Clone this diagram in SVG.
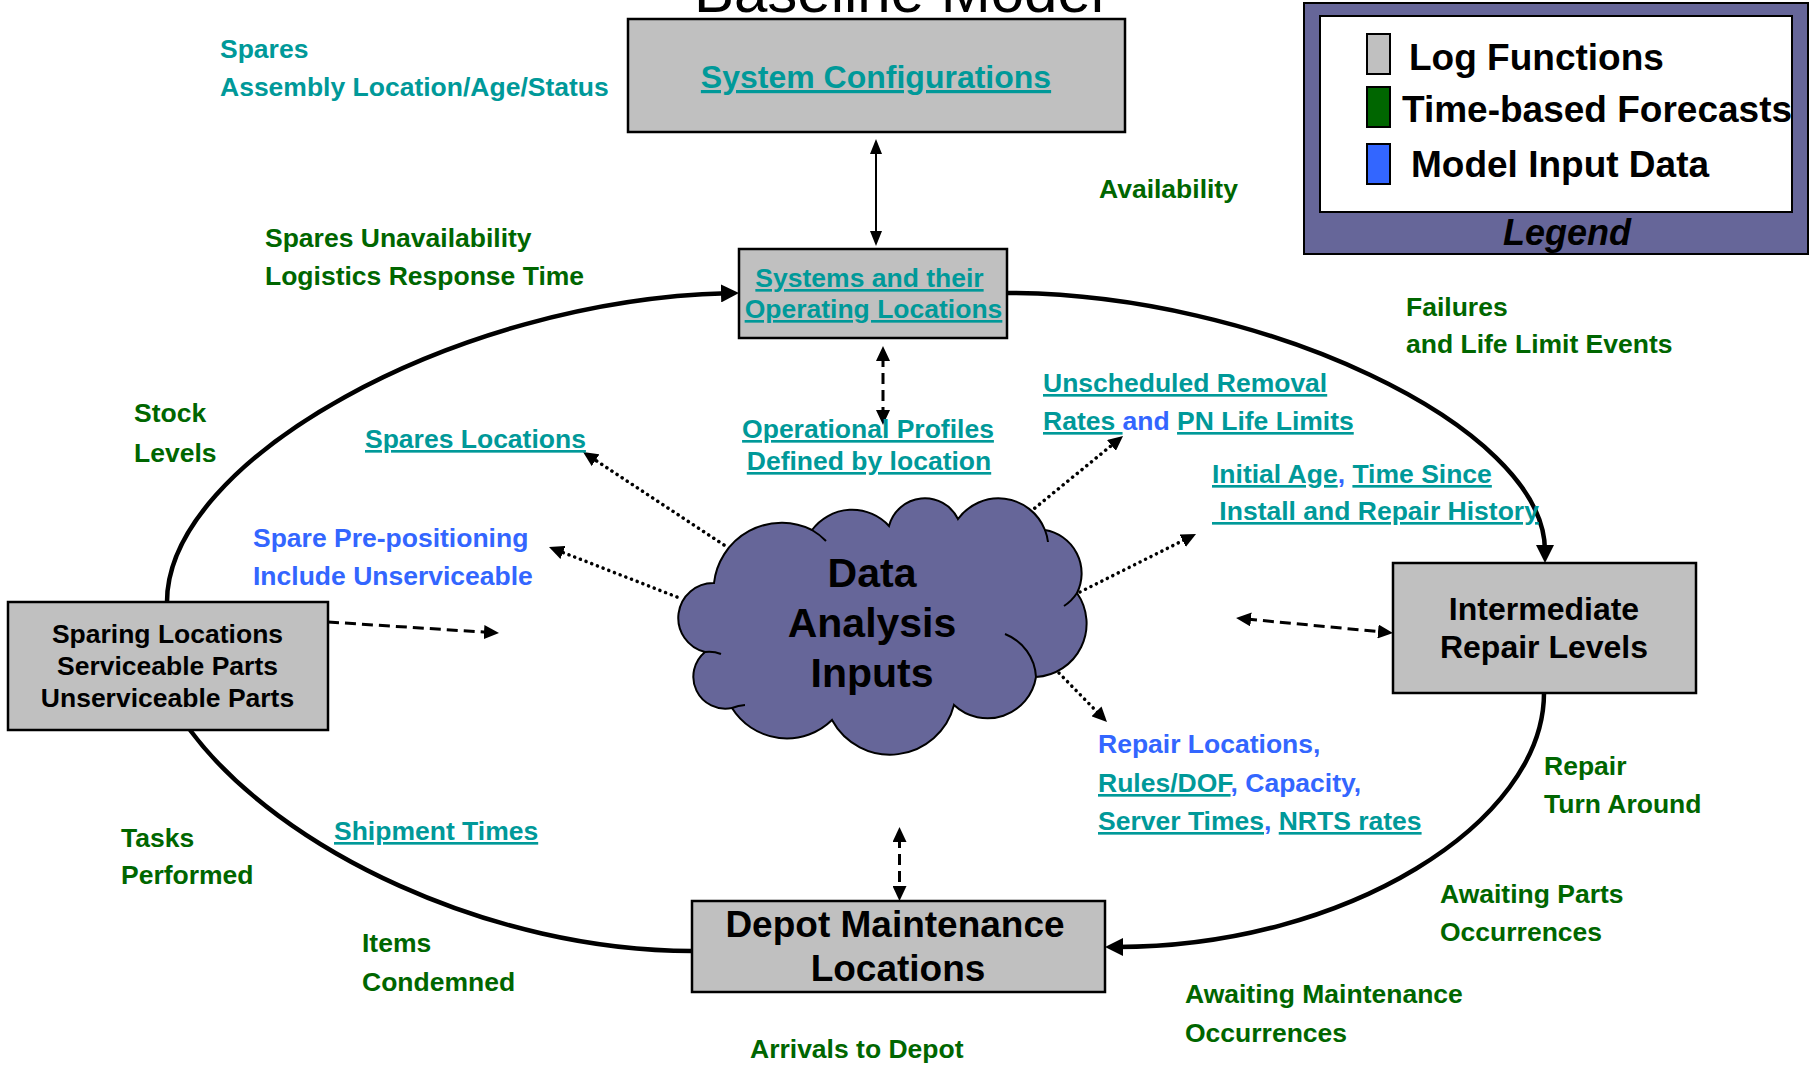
<svg xmlns="http://www.w3.org/2000/svg" width="1818" height="1067" viewBox="0 0 1818 1067">
<style>
text{font-family:"Liberation Sans",Arial,Helvetica,sans-serif;font-weight:bold}
.lbl{font-size:26.5px}
.teal{fill:#009999}
.green{fill:#006600}
.blue{fill:#3366FF}
.blk{fill:#000000}
.ul{text-decoration:underline}
.box{fill:#C0C0C0;stroke:#000;stroke-width:2.5}
.loop{fill:none;stroke:#000;stroke-width:4.5}
.dash{fill:none;stroke:#000;stroke-width:3;stroke-dasharray:11 6}
.dot{fill:none;stroke:#000;stroke-width:3.5;stroke-linecap:round;stroke-dasharray:0.1 6}
.solid{fill:none;stroke:#000;stroke-width:2}
.tick{fill:none;stroke:#000;stroke-width:2}
</style>
<defs>
<marker id="ahL" markerUnits="userSpaceOnUse" viewBox="0 0 18 18" markerWidth="18" markerHeight="18" refX="6" refY="9" orient="auto"><path d="M0,0 L18,9 L0,18 Z" fill="#000"/></marker>
<marker id="ah" markerUnits="userSpaceOnUse" viewBox="0 0 15 14" markerWidth="15" markerHeight="14" refX="5" refY="7" orient="auto-start-reverse"><path d="M0,0 L15,7 L0,14 Z" fill="#000"/></marker>
<marker id="ahS" markerUnits="userSpaceOnUse" viewBox="0 0 15 12" markerWidth="15" markerHeight="12" refX="5" refY="6" orient="auto-start-reverse"><path d="M0,0 L15,6 L0,12 Z" fill="#000"/></marker>
</defs>

<text x="899" y="12" text-anchor="middle" style="font-weight:normal;font-size:60px" class="blk">Baseline Model</text>

<g id="connectors">
<path class="loop" d="M167,602 C167,460 455,300 727,293.3" marker-end="url(#ahL)"/>
<path class="loop" d="M1007,293 C1257,293 1545,425 1545,551" marker-end="url(#ahL)"/>
<path class="loop" d="M1544,693 C1544,823 1345,947 1117,947" marker-end="url(#ahL)"/>
<path class="loop" d="M190,730 C280,851 492,951 692,951"/>
<path class="solid" d="M876,149 L876,236" marker-start="url(#ahS)" marker-end="url(#ahS)"/>
<path class="dash" d="M883,356 L883,415" marker-start="url(#ah)" marker-end="url(#ah)"/>
<path class="dash" d="M899.5,837 L899.5,891" marker-start="url(#ah)" marker-end="url(#ah)"/>
<path class="dash" d="M328,622 L489,632.4" marker-end="url(#ah)"/>
<path class="dash" d="M1246,619 L1383,632" marker-start="url(#ah)" marker-end="url(#ah)"/>
<path class="dot" d="M724,545 L591.4,457.5" marker-end="url(#ah)"/>
<path class="dot" d="M677,597 L558.3,550.6" marker-end="url(#ah)"/>
<path class="dot" d="M1030,512 L1115.3,442.3" marker-end="url(#ah)"/>
<path class="dot" d="M1080,592 L1187.1,538.5" marker-end="url(#ah)"/>
<path class="dot" d="M1059,673 L1100,714.9" marker-end="url(#ah)"/>
</g>

<g id="system-configurations">
<rect class="box" x="628" y="19" width="497" height="113"/>
<text x="876" y="88" text-anchor="middle" style="font-size:32px" class="teal ul">System Configurations</text>
</g>

<g id="systems-operating-locations">
<rect class="box" x="739" y="249" width="268" height="89"/>
<text x="869.5" y="287" text-anchor="middle" class="lbl teal ul">Systems and their</text>
<text x="873.5" y="318" text-anchor="middle" class="lbl teal ul">Operating Locations</text>
</g>

<g id="sparing-locations">
<rect class="box" x="8" y="602" width="320" height="128"/>
<text x="167.5" y="643" text-anchor="middle" class="lbl blk">Sparing Locations</text>
<text x="167.5" y="675" text-anchor="middle" class="lbl blk">Serviceable Parts</text>
<text x="167.5" y="707" text-anchor="middle" class="lbl blk">Unserviceable Parts</text>
</g>

<g id="intermediate-repair">
<rect class="box" x="1393" y="563" width="303" height="130"/>
<text x="1544" y="620" text-anchor="middle" style="font-size:32px" class="blk">Intermediate</text>
<text x="1544" y="658" text-anchor="middle" style="font-size:32px" class="blk">Repair Levels</text>
</g>

<g id="depot-maintenance">
<rect class="box" x="692" y="901" width="413" height="91"/>
<text x="895" y="937" text-anchor="middle" style="font-size:37px" class="blk">Depot Maintenance</text>
<text x="898" y="981" text-anchor="middle" style="font-size:37px" class="blk">Locations</text>
</g>

<g id="data-analysis-inputs">
<path d="M714,583 A68,68 0 0 1 812,530 A50,50 0 0 1 889,526 A37,37 0 0 1 958,519 A50,50 0 0 1 1045,530 A44,44 0 0 1 1077,593 A53.5,53.5 0 0 1 1036,677 A49,49 0 0 1 954,705 A66,66 0 0 1 832,720 A64.6,64.6 0 0 1 732,708 A32,32 0 0 1 705,652 A35,35 0 0 1 714,583 Z" fill="#666699" stroke="#000" stroke-width="2"/>
<path class="tick" d="M812,530 A68,68 0 0 1 826,541"/>
<path class="tick" d="M1045,530 A50,50 0 0 1 1048,542"/>
<path class="tick" d="M1077,593 A44,44 0 0 1 1064,606"/>
<path class="tick" d="M1005,634 A49,49 0 0 1 1036,677"/>
<path class="tick" d="M732,708 A40,40 0 0 1 745,705"/>
<path class="tick" d="M705,652 A32,32 0 0 1 721,654"/>
<text x="872" y="587" text-anchor="middle" style="font-size:41px" class="blk">Data</text>
<text x="872" y="637" text-anchor="middle" style="font-size:41px" class="blk">Analysis</text>
<text x="872" y="687" text-anchor="middle" style="font-size:41px" class="blk">Inputs</text>
</g>

<g id="legend">
<rect x="1304" y="3" width="504" height="251" fill="#666699" stroke="#000" stroke-width="2"/>
<rect x="1320" y="16" width="472" height="196" fill="#FFFFFF" stroke="#000" stroke-width="2"/>
<rect x="1367" y="34" width="23" height="40" fill="#C0C0C0" stroke="#000" stroke-width="2"/>
<rect x="1367" y="87" width="23" height="40" fill="#006600" stroke="#000" stroke-width="2"/>
<rect x="1367" y="144" width="23" height="40" fill="#3366FF" stroke="#000" stroke-width="2"/>
<text x="1409" y="70" style="font-size:37px" class="blk">Log Functions</text>
<text x="1402" y="122" style="font-size:37px" class="blk">Time-based Forecasts</text>
<text x="1411" y="177" style="font-size:37px" class="blk">Model Input Data</text>
<text x="1567" y="245" text-anchor="middle" style="font-size:36px;font-style:italic" class="blk">Legend</text>
</g>

<g id="labels">
<text x="220" y="58" class="lbl teal">Spares</text>
<text x="220" y="96" class="lbl teal">Assembly Location/Age/Status</text>
<text x="265" y="247" class="lbl green">Spares Unavailability</text>
<text x="265" y="285" class="lbl green">Logistics Response Time</text>
<text x="1099" y="198" class="lbl green">Availability</text>
<text x="1406" y="316" class="lbl green">Failures</text>
<text x="1406" y="353" class="lbl green">and Life Limit Events</text>
<text x="134" y="422" class="lbl green">Stock</text>
<text x="134" y="462" class="lbl green">Levels</text>
<text x="365" y="448" class="lbl teal ul">Spares Locations</text>
<text x="253" y="547" class="lbl blue">Spare Pre-positioning</text>
<text x="253" y="585" class="lbl blue">Include Unserviceable</text>
<text x="868" y="438" text-anchor="middle" class="lbl teal ul">Operational Profiles</text>
<text x="869" y="470" text-anchor="middle" class="lbl teal ul">Defined by location</text>
<text x="1043" y="392" class="lbl teal ul">Unscheduled Removal</text>
<text x="1043" y="430" class="lbl"><tspan class="teal ul">Rates </tspan><tspan class="blue">and</tspan> <tspan class="teal ul">PN Life Limits</tspan></text>
<text x="1212" y="483" class="lbl"><tspan class="teal ul">Initial Age</tspan><tspan class="blue">,</tspan> <tspan class="teal ul">Time Since</tspan></text>
<text x="1212" y="520" class="lbl teal ul" xml:space="preserve"> Install and Repair History</text>
<text x="1098" y="753" class="lbl blue">Repair Locations,</text>
<text x="1098" y="792" class="lbl"><tspan class="teal ul">Rules/DOF</tspan><tspan class="blue">, Capacity,</tspan></text>
<text x="1098" y="830" class="lbl"><tspan class="teal ul">Server Times</tspan><tspan class="blue">, </tspan><tspan class="teal ul">NRTS rates</tspan></text>
<text x="1544" y="775" class="lbl green">Repair</text>
<text x="1544" y="813" class="lbl green">Turn Around</text>
<text x="1440" y="903" class="lbl green">Awaiting Parts</text>
<text x="1440" y="941" class="lbl green">Occurrences</text>
<text x="1185" y="1003" class="lbl green">Awaiting Maintenance</text>
<text x="1185" y="1042" class="lbl green">Occurrences</text>
<text x="121" y="847" class="lbl green">Tasks</text>
<text x="121" y="884" class="lbl green">Performed</text>
<text x="334" y="840" class="lbl teal ul">Shipment Times</text>
<text x="362" y="952" class="lbl green">Items</text>
<text x="362" y="991" class="lbl green">Condemned</text>
<text x="750" y="1058" class="lbl green">Arrivals to Depot</text>
</g>
</svg>
